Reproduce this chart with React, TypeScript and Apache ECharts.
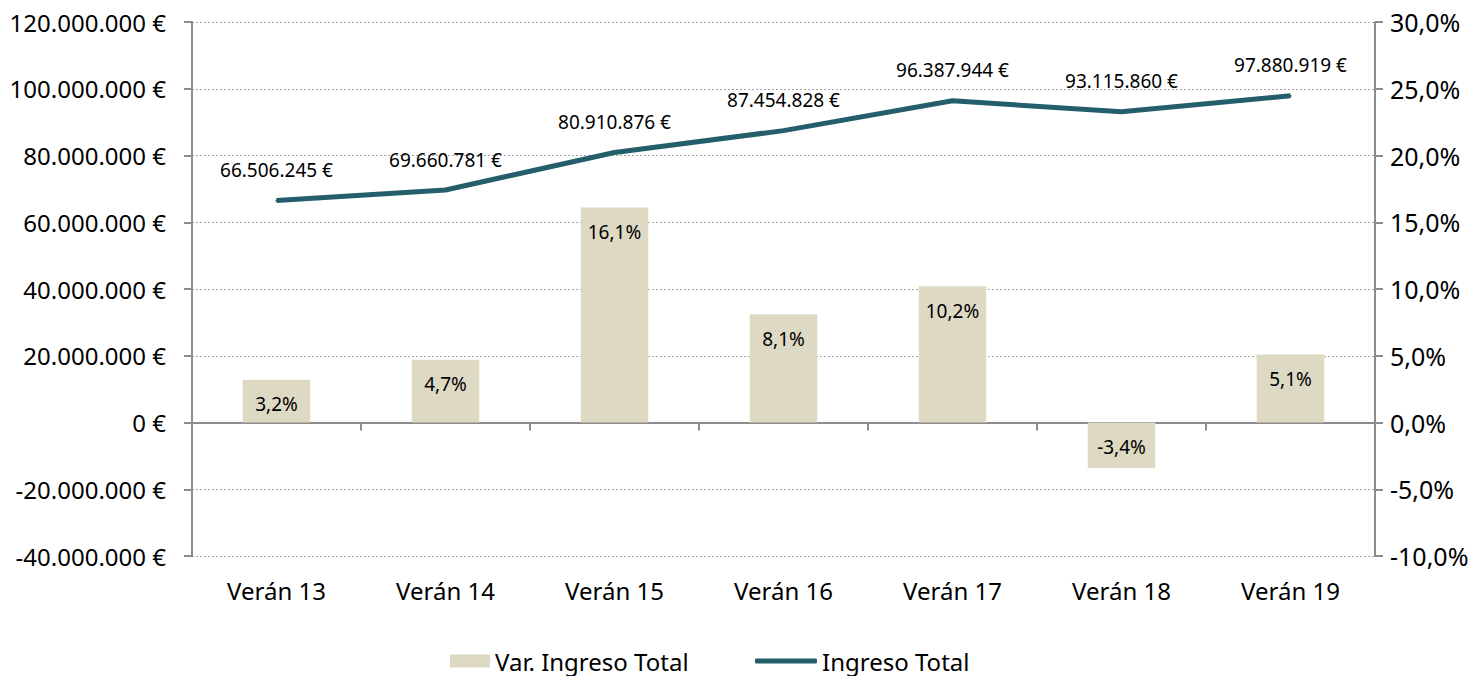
import React, { useEffect, useRef } from "react";
import * as echarts from "echarts";

const categories = ["Verán 13", "Verán 14", "Verán 15", "Verán 16", "Verán 17", "Verán 18", "Verán 19"];
const ingresoTotal = [66506245, 69660781, 80910876, 87454828, 96387944, 93115860, 97880919];
const varIngreso = [3.2, 4.7, 16.1, 8.1, 10.2, -3.4, 5.1];

const FONT = "Noto Sans";
const LINE_COLOR = "#255E6B";
const BAR_COLOR = "#DDD9C3";
const AXIS_COLOR = "#8C8C8C";

function fmtEuro(v: number): string {
  const neg = v < 0;
  const s = Math.round(Math.abs(v)).toString().replace(/\B(?=(\d{3})+(?!\d))/g, ".");
  return (neg ? "-" : "") + s + " €";
}
function fmtPct(v: number): string {
  return v.toFixed(1).replace(".", ",") + "%";
}

export default function App() {
  const ref = useRef<HTMLDivElement>(null);
  useEffect(() => {
    document.body.style.margin = "0";
    if (!ref.current) return;
    const chart = echarts.init(ref.current, null, { renderer: "svg" });
    chart.setOption({
      animation: false,
      backgroundColor: "#ffffff",
      textStyle: { fontFamily: FONT },
      grid: { left: 192, right: 107, top: 22, bottom: 120, containLabel: false, outerBoundsMode: "none" },
      legend: [
        {
          data: ["Var. Ingreso Total"],
          left: 450,
          top: 649,
          padding: 0,
          itemWidth: 40,
          itemHeight: 13,
          icon: "rect",
          textStyle: { fontFamily: FONT, fontSize: 24, color: "#000" },
        },
        {
          data: ["Ingreso Total"],
          left: 755,
          top: 649,
          padding: 0,
          itemWidth: 62,
          itemHeight: 5,
          icon: "roundRect",
          itemStyle: { color: LINE_COLOR, opacity: 1 },
          textStyle: { fontFamily: FONT, fontSize: 24, color: "#000" },
        },
      ],
      xAxis: {
        type: "category",
        data: categories,
        axisLine: { onZero: true, lineStyle: { color: AXIS_COLOR, width: 2 } },
        axisTick: { show: true, length: 8, lineStyle: { color: AXIS_COLOR, width: 2 } },
        axisLabel: { interval: 0, margin: 22, fontSize: 24, color: "#000", fontFamily: FONT },
        splitLine: { show: false },
      },
      yAxis: [
        {
          type: "value",
          min: -40000000,
          max: 120000000,
          interval: 20000000,
          position: "left",
          axisLine: { show: true, lineStyle: { color: AXIS_COLOR, width: 2 } },
          axisTick: { show: true, length: 8, lineStyle: { color: AXIS_COLOR, width: 2 } },
          axisLabel: { formatter: fmtEuro, fontSize: 24, color: "#000", margin: 26, fontFamily: FONT },
          splitLine: { show: true, lineStyle: { color: "#A6A6A6", type: [2, 2], width: 1 } },
        },
        {
          type: "value",
          min: -10,
          max: 30,
          interval: 5,
          position: "right",
          axisLine: { show: true, lineStyle: { color: AXIS_COLOR, width: 2 } },
          axisTick: { show: true, length: 8, lineStyle: { color: AXIS_COLOR, width: 2 } },
          axisLabel: { formatter: fmtPct, fontSize: 25, color: "#000", margin: 15, fontFamily: FONT },
          splitLine: { show: false },
        },
      ],
      series: [
        {
          name: "Var. Ingreso Total",
          type: "bar",
          yAxisIndex: 1,
          data: varIngreso,
          barWidth: "40%",
          itemStyle: { color: BAR_COLOR },
          label: {
            show: true,
            position: "insideTop",
            distance: 15,
            formatter: (p: any) => fmtPct(p.value),
            fontSize: 19,
            color: "#000",
            fontFamily: FONT,
          },
          z: 2,
        },
        {
          name: "Ingreso Total",
          type: "line",
          yAxisIndex: 0,
          data: ingresoTotal,
          symbol: "circle",
          symbolSize: 2,
          showSymbol: true,
          lineStyle: { color: LINE_COLOR, width: 5 },
          itemStyle: { color: LINE_COLOR },
          label: {
            show: true,
            position: "top",
            distance: 20,
            formatter: (p: any) => fmtEuro(p.value),
            fontSize: 19,
            color: "#000",
            fontFamily: FONT,
          },
          labelLayout: { hideOverlap: false },
          z: 3,
        },
      ],
    });
    return () => chart.dispose();
  }, []);
  return <div ref={ref} style={{ width: 1482, height: 676 }} />;
}
